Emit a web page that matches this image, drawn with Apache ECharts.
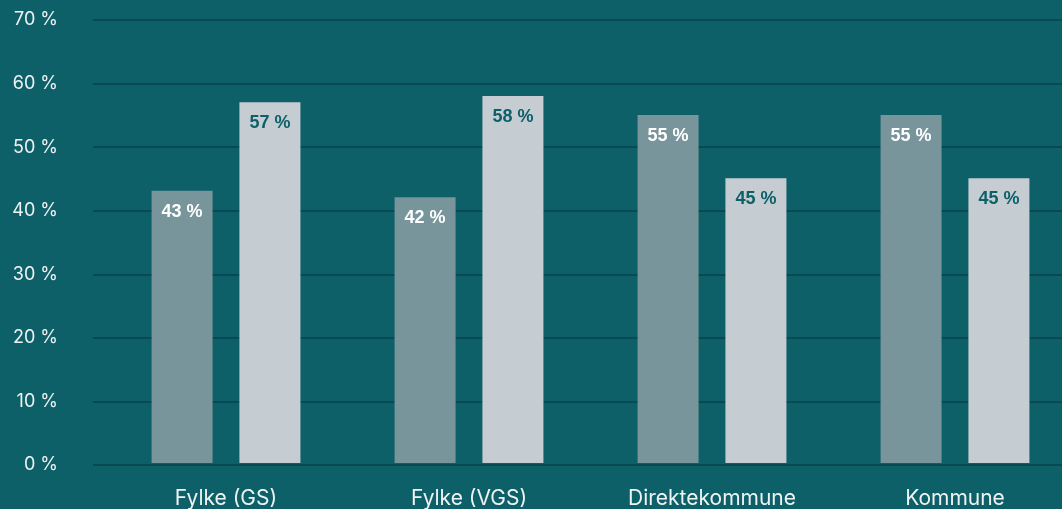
<!DOCTYPE html>
<html>
<head>
<meta charset="utf-8">
<script src="https://cdn.jsdelivr.net/npm/echarts@6/dist/echarts.min.js"></script>
<style>
  html, body { margin: 0; padding: 0; background: #0d5f68; }
  #chart { width: 1062px; height: 509px; }
</style>
</head>
<body>
<div id="chart"></div>
<script>
const categories = ['Fylke (GS)', 'Fylke (VGS)', 'Direktekommune', 'Kommune']
const seriesA = [43, 42, 55, 55]
const seriesB = [57, 58, 45, 45]
const yMax = 70
const yStep = 10

const chartInstance = echarts.init(document.getElementById('chart'))

const barLabel = (color) => ({
  show: true,
  position: 'insideTop',
  distance: 12,
  color: color,
  fontWeight: 'bold',
  fontSize: 18,
  fontFamily: 'Liberation Sans',
  formatter: (p) => p.value + ' %'
})

const option = {
  backgroundColor: '#0d5f68',
  animation: false,
  grid: [
    // grid for y labels + split lines
    { left: 93, right: 0, top: 20, bottom: 44 },
    // grid for the bars: categories sit on the ticks (first/last group centers)
    { left: 226, right: 107, top: 20, bottom: 44 }
  ],
  xAxis: [
    { gridIndex: 0, type: 'value', show: false },
    {
      gridIndex: 1,
      type: 'category',
      data: categories,
      boundaryGap: false,
      axisLine: { show: false },
      axisTick: { show: false },
      axisLabel: {
        color: '#eef3f4',
        fontSize: 21,
        fontFamily: 'Inter',
        margin: 25
      }
    }
  ],
  yAxis: [
    {
      gridIndex: 0,
      type: 'value',
      min: 0,
      max: yMax,
      interval: yStep,
      axisLine: { show: false },
      axisTick: { show: false },
      axisLabel: {
        color: '#eef3f4',
        fontSize: 18,
        fontFamily: 'Inter',
        margin: 35,
        formatter: (v) => v + ' %'
      },
      splitLine: { lineStyle: { color: '#08434b', width: 1.5 } }
    },
    {
      gridIndex: 1,
      type: 'value',
      min: 0,
      max: yMax,
      interval: yStep,
      show: false,
      splitLine: { show: false }
    }
  ],
  series: [
    {
      name: 'A',
      type: 'bar',
      xAxisIndex: 1,
      yAxisIndex: 1,
      clip: false,
      barWidth: 61,
      barGap: '44%',
      data: seriesA,
      itemStyle: { color: '#78959b' },
      label: barLabel('#ffffff')
    },
    {
      name: 'B',
      type: 'bar',
      xAxisIndex: 1,
      yAxisIndex: 1,
      clip: false,
      barWidth: 61,
      data: seriesB,
      itemStyle: { color: '#c5cdd3' },
      label: barLabel('#0d5f68')
    }
  ]
}

chartInstance.setOption(option)
</script>
</body>
</html>
